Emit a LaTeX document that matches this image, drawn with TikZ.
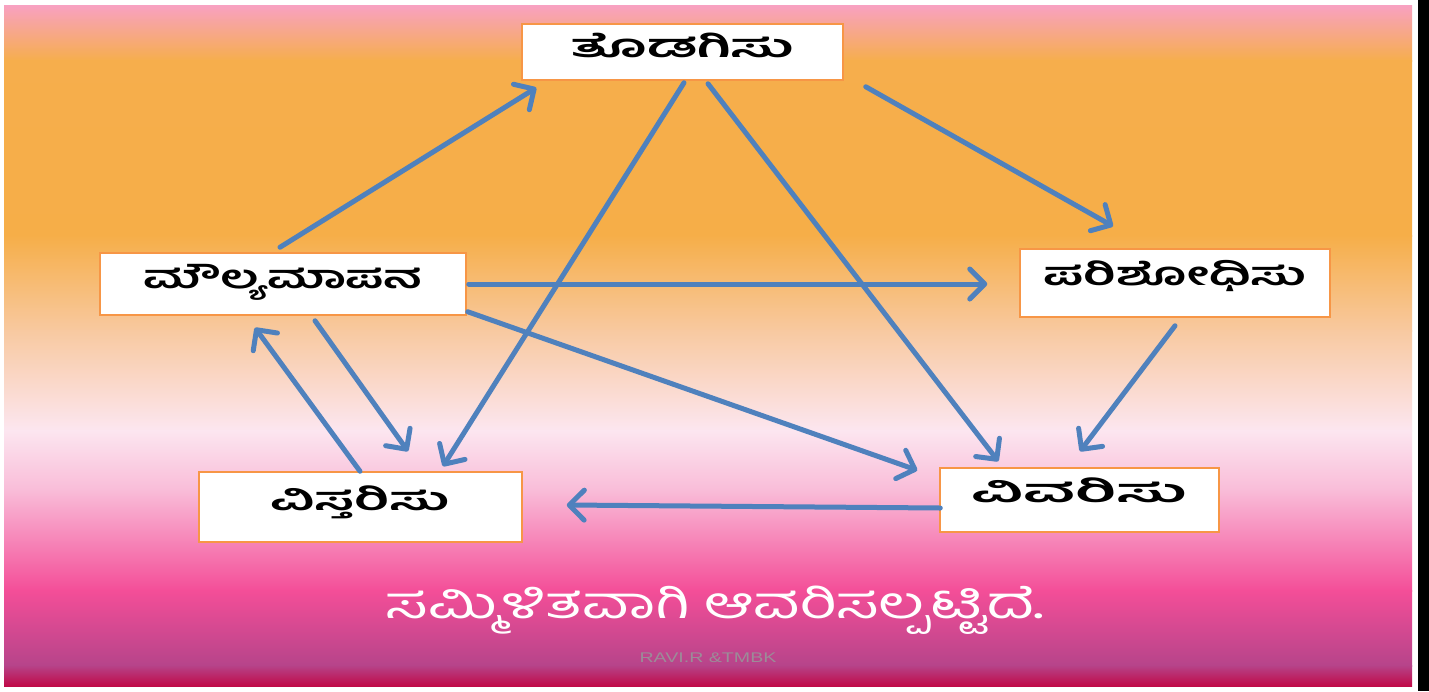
\documentclass[tikz,border=0pt]{standalone}
\usepackage{fontspec}
\usetikzlibrary{arrows.meta}
\newfontfamily\kn[Script=Kannada]{Hind Mysuru}
\setsansfont{Liberation Sans}
\definecolor{arrowblue}{HTML}{4F81BD}
\definecolor{boxline}{HTML}{F79646}
\definecolor{gA}{HTML}{F8A1C2}
\definecolor{gB}{HTML}{F6AE4C}
\definecolor{gC}{HTML}{F6AE48}
\definecolor{gD}{HTML}{F8C9A0}
\definecolor{gE}{HTML}{FCE6F0}
\definecolor{gF}{HTML}{F9BCD8}
\definecolor{gG}{HTML}{F44E98}
\definecolor{gH}{HTML}{B6448A}
\definecolor{gI}{HTML}{C00A48}
\definecolor{creditgray}{HTML}{9C8C98}
\tikzset{
  stagebox/.style={draw=boxline, line width=1.5pt, fill=white, inner sep=0pt,
    text height=20pt, text depth=20pt,
    font=\kn\bfseries\fontsize{32}{32}\selectfont, text=black},
  flow/.style={draw=arrowblue, line width=5pt, line cap=round,
    -{Straight Barb[length=15pt, width=30pt, line width=5pt, round]}},
  seg/.style={draw=none}
}
\begin{document}
\begin{tikzpicture}[x=1pt, y=-1pt]
\useasboundingbox (0,0) rectangle (1429,691);
\fill[white] (0,0) rectangle (1429,691);
% background gradient
\fill[seg, top color=gA, bottom color=gB] (4,5) rectangle (1412,61);
\fill[seg, top color=gB, bottom color=gC] (4,60) rectangle (1412,236);
\fill[seg, top color=gC, bottom color=gD] (4,235) rectangle (1412,331);
\fill[seg, top color=gD, bottom color=gE] (4,330) rectangle (1412,431);
\fill[seg, top color=gE, bottom color=gF] (4,430) rectangle (1412,491);
\fill[seg, top color=gF, bottom color=gG] (4,490) rectangle (1412,591);
\fill[seg, top color=gG, bottom color=gH] (4,590) rectangle (1412,666);
\fill[seg, top color=gH, bottom color=gI] (4,665) rectangle (1412,686);
\fill[black] (1418,0) rectangle (1429,691);

% boxes (baseline of text sits at the node centre, shifted by raisebox)
\node[stagebox, minimum width=321pt, minimum height=56pt] (T) at (682.5,52) {\raisebox{-5pt}{\scalebox{1.89}[1]{ತೊಡಗಿಸು}}};
\node[stagebox, minimum width=366pt, minimum height=62pt] (M) at (283,284) {\raisebox{-4pt}{\scalebox{1.58}[1]{ಮೌಲ್ಯಮಾಪನ}}};
\node[stagebox, minimum width=310pt, minimum height=68pt] (P) at (1175,283) {\raisebox{-2pt}{\scalebox{1.66}[1]{ಪರಿಶೋಧಿಸು}}};
\node[stagebox, minimum width=323pt, minimum height=70pt] (V) at (360.5,507) {\raisebox{-3pt}{\scalebox{1.79}[1]{ವಿಸ್ತರಿಸು}}};
\node[stagebox, minimum width=279pt, minimum height=64pt] (R) at (1079.5,500) {\raisebox{-2pt}{\scalebox{2.1}[1]{ವಿವರಿಸು}}};

% connectors
\draw[flow] ([shift={(-3,-5)}]M.north) -- ([shift={(15,7)}]T.south west);
\draw[flow] ([shift={(22,6)}]T.south east) -- ([shift={(-62,-22)}]P.north);
\draw[flow] ([shift={(1.5,2)}]T.south) -- ([shift={(82.5,-5)}]V.north);
\draw[flow] ([shift={(25.5,3)}]T.south) -- ([shift={(59,-6)}]R.north west);
\draw[flow] ([shift={(2,0)}]M.east) -- ([shift={(-32,1)}]P.west);
\draw[flow] ([shift={(1,-4)}]M.south east) -- ([shift={(-22,3)}]R.north west);
\draw[flow] ([shift={(32,5)}]M.south) -- ([shift={(47.5,-20)}]V.north);
\draw[flow] ([shift={(-0.5,0)}]V.north) -- ([shift={(-28,12)}]M.south);
\draw[flow] ([shift={(0,8)}]P.south) -- ([shift={(0.5,-16)}]R.north);
\draw[flow] ([shift={(1,8)}]R.west) -- ([shift={(44,-2)}]V.east);

% captions
\node[anchor=base, text=white, font=\kn\fontsize{42}{42}\selectfont, inner sep=0pt, text height=32pt, text depth=12pt] (cap) at (715,618) {\scalebox{1.52}[1.05]{ಸಮ್ಮಿಳಿತವಾಗಿ ಆವರಿಸಲ್ಪಟ್ಟಿದೆ.}};
\node[anchor=base, text=creditgray, font=\sffamily\fontsize{14}{14}\selectfont, inner sep=0pt] (credit) at (708,662) {\scalebox{1.4}[1]{RAVI.R \&TMBK}};
\end{tikzpicture}
\end{document}
